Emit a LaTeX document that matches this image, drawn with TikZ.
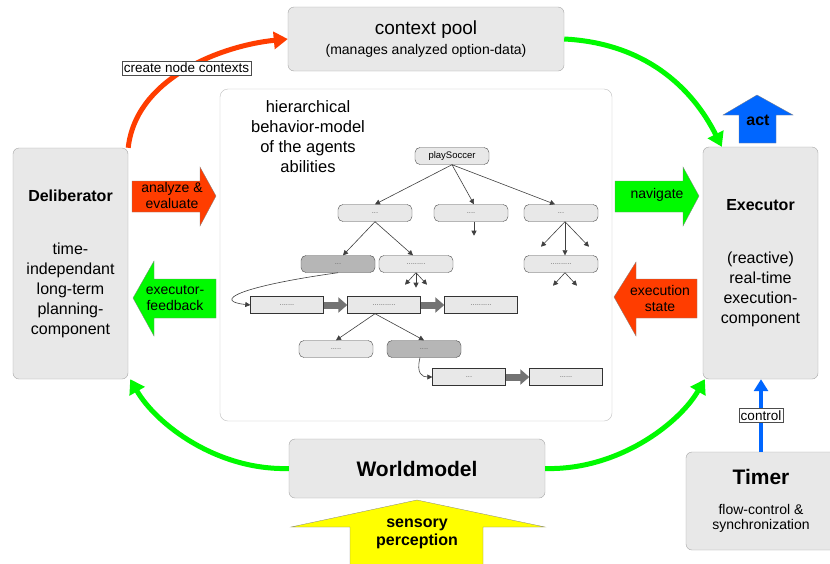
\documentclass[tikz,border=0pt]{standalone}
\usepackage{fontspec}
\setmainfont{Liberation Sans}
\usetikzlibrary{arrows.meta,calc,positioning}
\definecolor{boxgray}{RGB}{232,232,232}
\definecolor{darkbox}{RGB}{182,182,182}
\definecolor{flowred}{RGB}{255,61,0}
\definecolor{flowgreen}{RGB}{0,250,0}
\definecolor{flowblue}{RGB}{0,102,255}
\definecolor{flowyellow}{RGB}{255,255,0}

\begin{document}
\begin{tikzpicture}[x=1pt,y=-1pt,
    component/.style={rectangle, draw=black!35, fill=boxgray, rounded corners=6pt,
        align=center, inner sep=0pt, font=\fontsize{16}{20}\selectfont},
    modelframe/.style={rectangle, draw=black!25, fill=white, rounded corners=8pt},
    behavior/.style={rectangle, draw=black!70, fill=boxgray, rounded corners=5pt,
        minimum width=74pt, minimum height=17pt, inner sep=0pt,
        text=black!60, font=\fontsize{7.5}{7.5}\selectfont},
    active/.style={behavior, fill=darkbox},
    plan/.style={rectangle, draw=black!80, fill=boxgray, minimum width=73pt,
        minimum height=17pt, inner sep=0pt, text=black!60, font=\fontsize{7.5}{7.5}\selectfont},
    treearrow/.style={draw=black!75, line width=0.6pt, -{Triangle[length=5pt,width=5pt]}},
    chainarrow/.style={draw=black!55, line width=7pt, -{Triangle[length=9pt,width=15pt]}},
    redflow/.style={draw=flowred, line width=5pt, -{Triangle[length=14pt,width=17pt]}},
    greenflow/.style={draw=flowgreen, line width=5pt, -{Triangle[length=14pt,width=17pt]}},
    controlflow/.style={draw=flowblue, line width=4.5pt, -{Triangle[length=12pt,width=14pt]}},
    blockred/.style={fill=flowred, draw=black!50, line width=0.3pt},
    blockgreen/.style={fill=flowgreen, draw=black!50, line width=0.3pt},
    blockblue/.style={fill=flowblue, draw=black!50, line width=0.3pt},
    blockyellow/.style={fill=flowyellow, draw=black!50, line width=0.3pt},
    arrowtext/.style={align=center, font=\fontsize{14}{16}\selectfont},
    tag/.style={rectangle, draw=black!70, fill=white, line width=0.4pt, inner sep=2pt,
        font=\fontsize{13.5}{14}\selectfont}
]
\useasboundingbox[fill=white] (0,0) rectangle (830,563);

\node[modelframe, minimum width=392pt, minimum height=332pt] (ModelBox) at (416,255) {};
\node[align=center, font=\fontsize{16.5}{20}\selectfont] (ModelTitle) at (308,137) {hierarchical\\behavior-model\\of the agents\\abilities};

\node[component, minimum width=276pt, minimum height=64pt] (ContextPool) at (426,39)
  {{\fontsize{19}{19}\selectfont context pool}\\{\fontsize{14}{19}\selectfont (manages analyzed option-data)}};
\node[component, minimum width=115pt, minimum height=231pt] (Deliberator) at (70.5,263.5)
  {{\bfseries Deliberator}\\[33pt]time-\\independant\\long-term\\planning-\\component};
\node[component, minimum width=115pt, minimum height=232pt] (Executor) at (760.5,263)
  {{\bfseries Executor}\\[33pt](reactive)\\real-time\\execution-\\component};
\node[component, minimum width=256pt, minimum height=59pt, font=\fontsize{21}{21}\selectfont\bfseries] (Worldmodel) at (417,468.5) {Worldmodel};
\node[component, minimum width=150pt, minimum height=98pt, font=\fontsize{14}{15.5}\selectfont] (Timer) at (761,501)
  {{\fontsize{21}{21}\selectfont\bfseries Timer}\\[14pt]flow-control \&\\synchronization};

\node[behavior, text=black] (PlaySoccer) at (452,156) {\fontsize{9.5}{10}\selectfont playSoccer};
\node[behavior] (Option01) at (375,213) {...};
\node[behavior] (Option02) at (471,213) {....};
\node[behavior] (Option03) at (561,213) {...};
\node[active] (Option04) at (338,264) {...};
\node[behavior] (Option05) at (416,264) {.........};
\node[behavior] (Option06) at (561,264) {..........};
\node[plan] (Plan01) at (287,305) {.......};
\node[plan] (Plan02) at (384,305) {...........};
\node[plan] (Plan03) at (481,305) {..........};
\node[behavior] (Option07) at (336,349) {.....};
\node[active] (Option08) at (424,349) {....};
\node[plan] (Plan04) at (469,377) {...};
\node[plan] (Plan05) at (566,377) {......};

\draw[treearrow] (PlaySoccer.south) -- (Option01.north);
\draw[treearrow] (PlaySoccer.south) -- ([xshift=3pt]Option02.north);
\draw[treearrow] (PlaySoccer.south) -- ([xshift=-6pt]Option03.north);
\draw[treearrow] ([xshift=3pt]Option02.south) -- ++(0,14);
\draw[treearrow] (Option01.south) -- ([xshift=5pt]Option04.north);
\draw[treearrow] (Option01.south) -- ([xshift=-3pt]Option05.north);
\draw[treearrow] ([xshift=4pt]Option03.south) -- ++(-24,25);
\draw[treearrow] ([xshift=4pt]Option03.south) -- ([xshift=4pt]Option06.north);
\draw[treearrow] ([xshift=4pt]Option03.south) -- ++(24,25);
\draw[treearrow] (Option05.south) -- ++(-11,12);
\draw[treearrow] (Option05.south) -- ++(0,15);
\draw[treearrow] (Option05.south) -- ++(11,12);
\draw[treearrow] ([xshift=4pt]Option06.south) -- ++(-12,13);
\draw[treearrow] ([xshift=4pt]Option06.south) -- ++(12,13);
\draw[treearrow] (Option04.south) .. controls +(-100,14) and +(-38,-4) .. (Plan01.west);
\draw[treearrow] ([xshift=-9pt]Plan02.south) -- (Option07.north);
\draw[treearrow] ([xshift=-9pt]Plan02.south) -- (Option08.north);
\draw[treearrow] ([xshift=-4pt]Option08.south) .. controls +(-4,16) and +(-10,0) .. (Plan04.west);
\draw[chainarrow] (Plan01.east) -- (Plan02.west);
\draw[chainarrow] (Plan02.east) -- (Plan03.west);
\draw[chainarrow] (Plan04.east) -- (Plan05.west);

\draw[redflow] (Deliberator.north east) .. controls +(8,-72) and +(-62,6) .. (ContextPool.west);
\draw[greenflow] (ContextPool.east) .. controls +(80,4) and +(-30,-60) .. ([xshift=19pt]Executor.north west);
\draw[greenflow] (Worldmodel.west) .. controls +(-72,2) and +(26,45) .. ([xshift=2pt]Deliberator.south east);
\draw[greenflow] (Worldmodel.east) .. controls +(72,2) and +(-26,45) .. ([xshift=2pt]Executor.south west);
\node[tag] (CreateLabel) at (186.5,68) {create node contexts};
\draw[controlflow] (Timer.north) -- (Timer.north |- Executor.south)
  node[tag, midway] (ControlLabel) {control};

\filldraw[blockred] (132,181) -- (200,181) -- (200,167) -- (216,196) -- (200,226) -- (200,212) -- (132,212) -- cycle;
\node[arrowtext] (AnalyzeText) at (172,195) {analyze \&\\evaluate};
\filldraw[blockgreen] (216,279) -- (154,279) -- (154,261) -- (133,298) -- (154,336) -- (154,318) -- (216,318) -- cycle;
\node[arrowtext] (FeedbackText) at (175,298) {executor-\\feedback};
\filldraw[blockgreen] (615,181) -- (683,181) -- (683,167) -- (699,196) -- (683,226) -- (683,212) -- (615,212) -- cycle;
\node[arrowtext] (NavigateText) at (657,195) {navigate};
\filldraw[blockred] (697,279) -- (636,279) -- (636,262) -- (614,297) -- (636,336) -- (636,318) -- (697,318) -- cycle;
\node[arrowtext] (StateText) at (660,298) {execution\\state};
\filldraw[blockblue] (739,143) -- (739,115) -- (723,115) -- (757,95) -- (793,115) -- (776,115) -- (776,143) -- cycle;
\node[font=\fontsize{16}{16}\selectfont\bfseries] (ActText) at (758,120) {act};
\filldraw[blockyellow] (350,566) -- (350,527) -- (291,527) -- (417,500) -- (545,527) -- (483,527) -- (483,566) -- cycle;
\node[align=center, font=\fontsize{16}{18}\selectfont\bfseries] (SensoryText) at (417,534) {sensory\\perception};
\end{tikzpicture}
\end{document}
